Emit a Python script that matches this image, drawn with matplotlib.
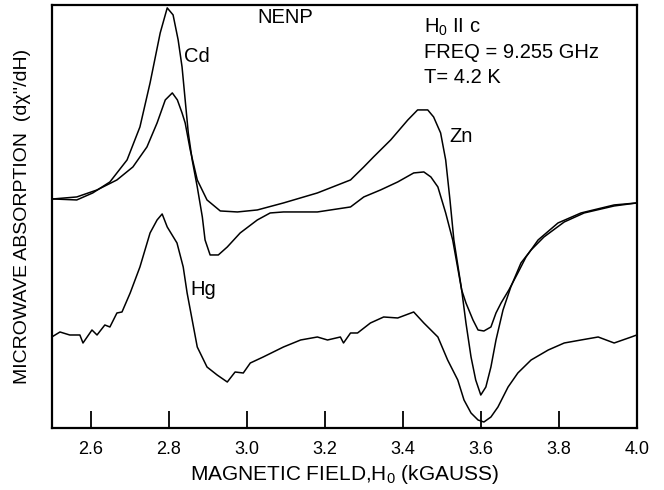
import matplotlib
matplotlib.use('Agg')
import matplotlib.pyplot as plt

# ESR traces of NENP doped with Cd, Zn, Hg (arbitrary units)
cd_field = [2.503, 2.564, 2.605, 2.649, 2.693, 2.726, 2.752, 2.778, 2.796, 2.811,
            2.824, 2.834, 2.842, 2.850, 2.860, 2.873, 2.886, 2.893, 2.906, 2.927,
            2.950, 2.983, 3.027, 3.060, 3.094, 3.181, 3.266, 3.300, 3.343, 3.387,
            3.428, 3.454, 3.472, 3.490, 3.510, 3.528, 3.551, 3.562, 3.580, 3.593,
            3.608, 3.626, 3.639, 3.652, 3.672, 3.695, 3.716, 3.747, 3.798, 3.857,
            3.942, 4.000]
cd_signal = [229, 228, 235, 246, 268, 301, 345, 395, 420, 413,
             388, 361, 328, 295, 268, 241, 211, 188, 173, 173,
             181, 195, 208, 215, 216, 216, 221, 231, 238, 246,
             255, 256, 251, 241, 215, 188, 138, 125, 108, 98,
             97, 101, 115, 125, 138, 155, 171, 188, 205, 215,
             223, 225]

zn_field = [2.503, 2.564, 2.616, 2.667, 2.708, 2.744, 2.770, 2.791, 2.809, 2.822,
            2.834, 2.842, 2.855, 2.873, 2.898, 2.932, 2.976, 3.027, 3.094, 3.181,
            3.266, 3.300, 3.325, 3.369, 3.413, 3.438, 3.464, 3.479, 3.497, 3.510,
            3.521, 3.531, 3.551, 3.562, 3.575, 3.587, 3.600, 3.613, 3.626, 3.639,
            3.657, 3.677, 3.703, 3.729, 3.762, 3.814, 3.865, 3.942, 4.000]
zn_signal = [229, 231, 238, 248, 261, 281, 305, 328, 335, 328,
             315, 305, 278, 248, 228, 217, 216, 218, 225, 235,
             248, 261, 271, 288, 308, 318, 318, 311, 295, 268,
             228, 188, 138, 105, 71, 48, 33, 41, 61, 88,
             118, 141, 165, 178, 191, 206, 215, 222, 225]

hg_field = [2.500, 2.521, 2.546, 2.572, 2.580, 2.603, 2.616, 2.636, 2.649, 2.667,
            2.680, 2.701, 2.726, 2.752, 2.770, 2.783, 2.796, 2.821, 2.837, 2.847,
            2.873, 2.898, 2.924, 2.950, 2.970, 2.991, 3.009, 3.042, 3.094, 3.138,
            3.181, 3.207, 3.240, 3.248, 3.266, 3.284, 3.317, 3.351, 3.387, 3.428,
            3.454, 3.490, 3.515, 3.541, 3.557, 3.575, 3.593, 3.608, 3.626, 3.644,
            3.670, 3.695, 3.729, 3.773, 3.814, 3.857, 3.901, 3.942, 3.986, 4.000]
hg_signal = [91, 96, 93, 93, 85, 98, 93, 103, 101, 115,
             116, 135, 161, 195, 208, 214, 201, 185, 161, 135,
             81, 61, 53, 46, 56, 55, 65, 71, 81, 88,
             91, 88, 91, 85, 95, 95, 105, 111, 110, 116,
             105, 91, 68, 48, 28, 15, 8, 6, 11, 21,
             41, 55, 68, 78, 85, 88, 91, 85, 91, 93]

x_ticks = [2.6, 2.8, 3.0, 3.2, 3.4, 3.6, 3.8, 4.0]

plt.rcParams['font.family'] = ['Liberation Sans', 'DejaVu Sans']
plt.rcParams['mathtext.default'] = 'regular'

fig = plt.figure(figsize=(6.64, 4.9), dpi=100)
ax = fig.add_axes([0.078, 0.1265, 0.881, 0.8635])

ax.plot(cd_field, cd_signal, color='black', lw=1.1)
ax.plot(zn_field, zn_signal, color='black', lw=1.1)
ax.plot(hg_field, hg_signal, color='black', lw=1.1)

ax.set_xlim(2.5, 4.0)
ax.set_ylim(0, 423)
ax.set_xticks(x_ticks)
ax.set_xticklabels(['%.1f' % t for t in x_ticks])
ax.set_yticks([])
ax.tick_params(axis='x', direction='in', length=12, width=1.3, labelsize=13, pad=9)
for s in ax.spines.values():
    s.set_linewidth(1.6)

ax.set_xlabel('MAGNETIC FIELD,H$_0$ (kGAUSS)', fontsize=15, labelpad=4)
ax.set_ylabel("MICROWAVE ABSORPTION  (dχ''/dH)", fontsize=14, labelpad=15)

# labels on the traces
ax.text(2.84, 371, 'Cd', fontsize=14.5, va='center')
ax.text(3.52, 291, 'Zn', fontsize=14.5, va='center')
ax.text(2.855, 138, 'Hg', fontsize=14.5, va='center')
ax.text(3.099, 410, 'NENP', fontsize=14.5, va='center', ha='center')
ax.text(3.455, 401, 'H$_0$ II c', fontsize=14.5, va='center')
ax.text(3.455, 375, 'FREQ = 9.255 GHz', fontsize=14.5, va='center')
ax.text(3.455, 350, 'T= 4.2 K', fontsize=14.5, va='center')

fig.savefig('out.png', dpi=100)
